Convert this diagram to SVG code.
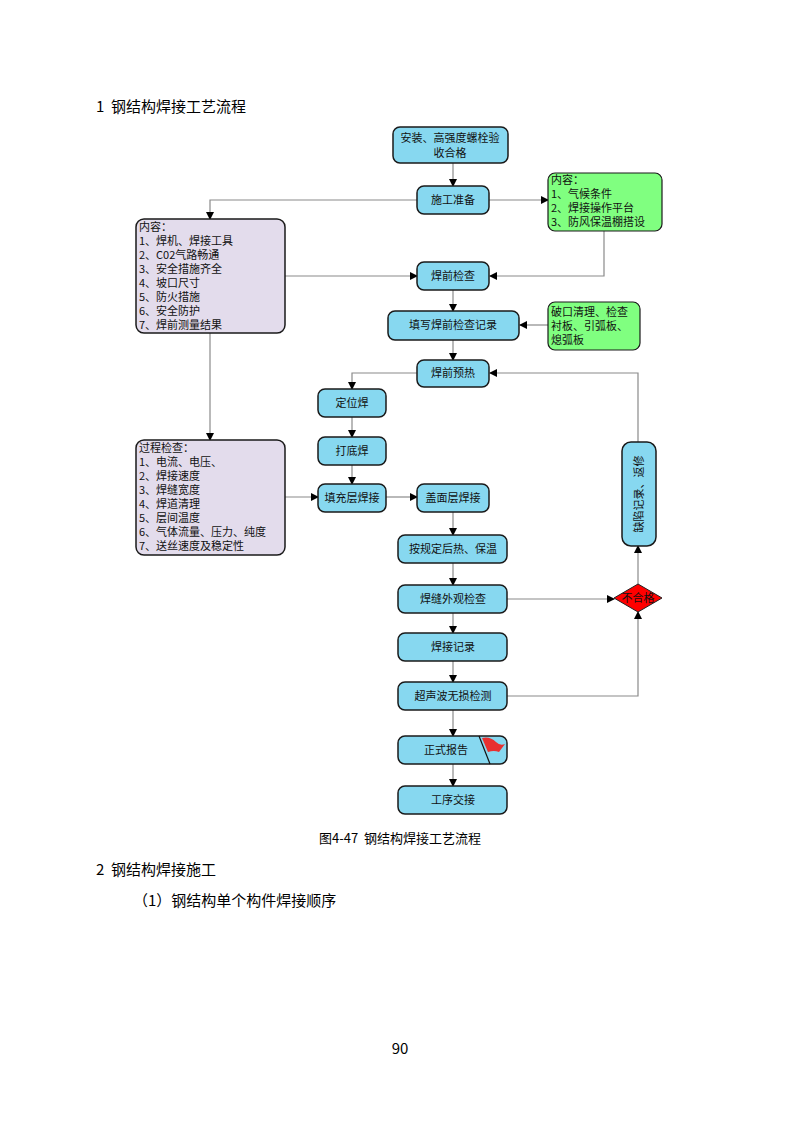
<svg xmlns="http://www.w3.org/2000/svg" width="800" height="1132" viewBox="0 0 800 1132">
<style>
.b{fill:#87d8f0;stroke:#1a1a1a;stroke-width:1.5}
.g{fill:#80ff80;stroke:#1a1a1a;stroke-width:1.2}
.l{fill:#e3dcec;stroke:#1a1a1a;stroke-width:1.5}
.t{font-family:"Noto Sans CJK SC","Liberation Serif",serif;font-size:11px;fill:#111}
.c{text-anchor:middle}
.a{fill:none;stroke:#8a8a8a;stroke-width:1.2;marker-end:url(#ar)}
.h{font-family:"Noto Sans CJK SC","Liberation Sans",sans-serif;fill:#000}
</style>
<defs><marker id="ar" markerWidth="8" markerHeight="8" refX="7" refY="4" orient="auto" markerUnits="userSpaceOnUse"><path d="M0,0L8,4L0,8Z" fill="#000"/></marker></defs>
<rect width="800" height="1132" fill="#fff"/>
<text class="h" x="96" y="112" font-size="15">1&#160;&#160;钢结构焊接工艺流程</text>
<text class="h" x="400" y="843" font-size="13" text-anchor="middle">图4-47&#160;&#160;钢结构焊接工艺流程</text>
<text class="h" x="96" y="875" font-size="15">2&#160;&#160;钢结构焊接施工</text>
<text class="h" x="133" y="906" font-size="15">（1）钢结构单个构件焊接顺序</text>
<text class="h" x="400" y="1054" font-size="15" text-anchor="middle">90</text>
<g id="connectors">
<path class="a" d="M453,163V186"/>
<path class="a" d="M489,200H548"/>
<path class="a" d="M417,200H210V219"/>
<path class="a" d="M604,231V276H490"/>
<path class="a" d="M285,276H417"/>
<path class="a" d="M453,290V311"/>
<path class="a" d="M548,325H520"/>
<path class="a" d="M453,340V360"/>
<path class="a" d="M417,373H352V389"/>
<path class="a" d="M352,417V437"/>
<path class="a" d="M352,465V484"/>
<path class="a" d="M210,333V440"/>
<path class="a" d="M285,497H318"/>
<path class="a" d="M386,497H417"/>
<path class="a" d="M453,512V535"/>
<path class="a" d="M453,563V585"/>
<path class="a" d="M453,613V633"/>
<path class="a" d="M453,661V682"/>
<path class="a" d="M453,710V736"/>
<path class="a" d="M453,764V786"/>
<path class="a" d="M507,599H614"/>
<path class="a" d="M507,696H638V612"/>
<path class="a" d="M638,584V546"/>
<path class="a" d="M638,442V373H490"/>
</g>
<g id="n1"><rect class="b" x="393" y="127" width="115" height="36" rx="7"/><text class="t c" x="450" y="142">安装、高强度螺栓验</text><text class="t c" x="450" y="157">收合格</text></g>
<g id="n2"><rect class="b" x="417" y="186" width="72" height="28" rx="7"/><text class="t c" x="453" y="204">施工准备</text></g>
<g id="g1"><rect class="g" x="548" y="173" width="114" height="58" rx="7"/><text class="t" x="551" y="184">内容：</text><text class="t" x="551" y="198">1、气候条件</text><text class="t" x="551" y="212">2、焊接操作平台</text><text class="t" x="551" y="226">3、防风保温棚搭设</text></g>
<g id="l1"><rect class="l" x="136" y="219" width="149" height="114" rx="8"/>
<text class="t" x="139" y="231">内容：</text><text class="t" x="139" y="245">1、焊机、焊接工具</text><text class="t" x="139" y="259">2、C02气路畅通</text><text class="t" x="139" y="273">3、安全措施齐全</text><text class="t" x="139" y="287">4、坡口尺寸</text><text class="t" x="139" y="301">5、防火措施</text><text class="t" x="139" y="315">6、安全防护</text><text class="t" x="139" y="329">7、焊前测量结果</text></g>
<g id="n3"><rect class="b" x="417" y="262" width="72" height="28" rx="7"/><text class="t c" x="453" y="280">焊前检查</text></g>
<g id="n4"><rect class="b" x="388" y="311" width="131" height="29" rx="7"/><text class="t c" x="453" y="329">填写焊前检查记录</text></g>
<g id="g2"><rect class="g" x="548" y="302" width="92" height="48" rx="7"/><text class="t" x="551" y="316">破口清理、检查</text><text class="t" x="551" y="330">衬板、引弧板、</text><text class="t" x="551" y="344">熄弧板</text></g>
<g id="n5"><rect class="b" x="417" y="360" width="72" height="27" rx="7"/><text class="t c" x="453" y="377">焊前预热</text></g>
<g id="n6"><rect class="b" x="318" y="389" width="68" height="28" rx="7"/><text class="t c" x="352" y="407">定位焊</text></g>
<g id="n7"><rect class="b" x="318" y="437" width="68" height="28" rx="7"/><text class="t c" x="352" y="455">打底焊</text></g>
<g id="l2"><rect class="l" x="136" y="440" width="149" height="115" rx="8"/>
<text class="t" x="139" y="452">过程检查：</text><text class="t" x="139" y="466">1、电流、电压、</text><text class="t" x="139" y="480">2、焊接速度</text><text class="t" x="139" y="494">3、焊缝宽度</text><text class="t" x="139" y="508">4、焊道清理</text><text class="t" x="139" y="522">5、层间温度</text><text class="t" x="139" y="536">6、气体流量、压力、纯度</text><text class="t" x="139" y="550">7、送丝速度及稳定性</text></g>
<g id="n8"><rect class="b" x="318" y="484" width="68" height="28" rx="7"/><text class="t c" x="352" y="502">填充层焊接</text></g>
<g id="n9"><rect class="b" x="417" y="484" width="72" height="28" rx="7"/><text class="t c" x="453" y="502">盖面层焊接</text></g>
<g id="n10"><rect class="b" x="398" y="535" width="109" height="28" rx="7"/><text class="t c" x="453" y="553">按规定后热、保温</text></g>
<g id="n11"><rect class="b" x="398" y="585" width="109" height="28" rx="7"/><text class="t c" x="453" y="603">焊缝外观检查</text></g>
<g id="n12"><rect class="b" x="398" y="633" width="109" height="28" rx="7"/><text class="t c" x="453" y="651">焊接记录</text></g>
<g id="n13"><rect class="b" x="398" y="682" width="109" height="28" rx="7"/><text class="t c" x="453" y="700">超声波无损检测</text></g>
<g id="n14"><rect class="b" x="398" y="736" width="109" height="28" rx="7"/><text class="t c" x="446" y="754">正式报告</text>
<path d="M479,736L490,764" stroke="#111" stroke-width="1.2"/><path d="M482,738Q490,736 496,742Q500,746 505,744L499,752Q494,750 488,752Z" fill="#e83030"/></g>
<g id="n15"><rect class="b" x="398" y="786" width="109" height="28" rx="7"/><text class="t c" x="453" y="804">工序交接</text></g>
<g id="n16"><rect class="b" x="622" y="442" width="34" height="104" rx="9"/><text class="t c" transform="translate(643,494) rotate(-90)">缺陷记录、返修</text></g>
<g id="n17"><path d="M614,598L638,584L662,598L638,612Z" fill="#ff0000" stroke="#222"/><text class="t c" x="638" y="602" fill="#7a0000">不合格</text></g>
</svg>
